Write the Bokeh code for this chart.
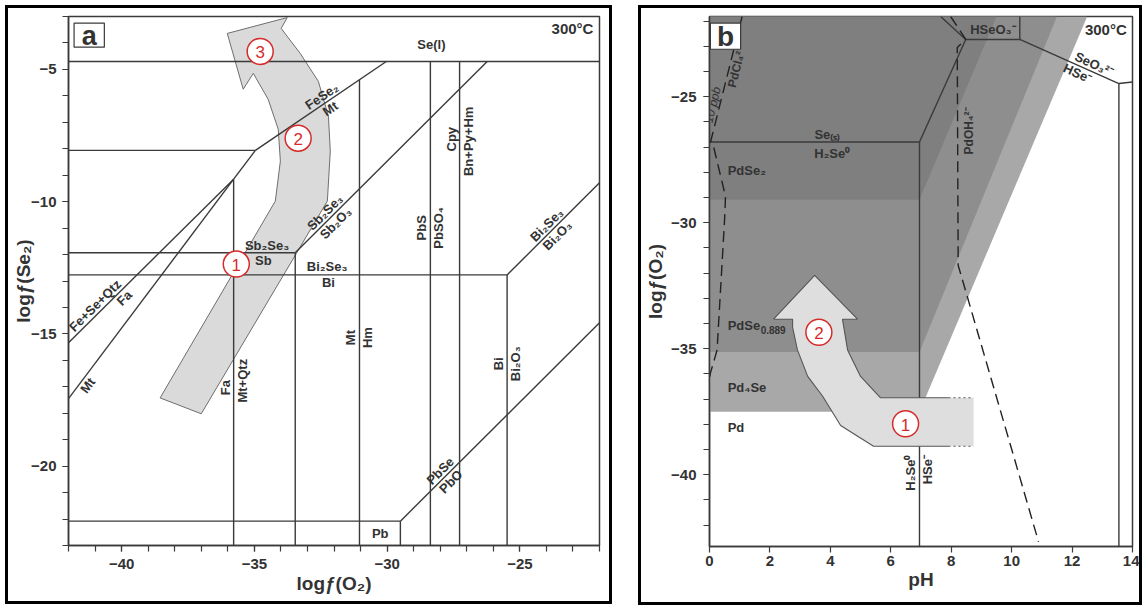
import math
from bokeh.plotting import figure
from bokeh.models import Range1d, FixedTicker, ColumnDataSource
from bokeh.layouts import row
from bokeh.core.properties import value
from bokeh.embed import file_html
from bokeh.resources import INLINE

FONT = "Liberation Sans"
INK = "#333333"
LINE = "#3a3a3a"
RED = "#d52b2b"

# ---------------- panel a: log f(O2) - log f(Se2) at 300 °C ----------------
a_seg_x0 = [-42.0, -42.0, -35.78, -34.96, -31.04, -28.37, -27.27, -33.46, -42.0, -33.46,
            -42.0, -25.48, -25.48, -35.78, -35.78, -35.78, -42.0, -29.50, -29.50]
a_seg_y0 = [-4.70, -8.06, -9.15, -8.06, -5.39, -4.70, -4.70, -11.93, -11.93, -11.93,
            -12.77, -12.77, -12.77, -9.15, -9.15, -9.15, -22.08, -22.08, -22.08]
a_seg_x1 = [-22.0, -34.96, -34.96, -30.03, -31.04, -28.37, -27.27, -26.23, -33.46, -33.46,
            -25.48, -25.48, -22.0, -42.0, -42.0, -35.78, -29.50, -29.50, -22.0]
a_seg_y1 = [-4.70, -8.06, -8.06, -4.70, -23.0, -23.0, -23.0, -4.70, -11.93, -23.0,
            -12.77, -23.0, -9.29, -15.33, -17.45, -23.0, -22.08, -23.0, -14.58]

# fluid path arrow
a_arrow_x = [-38.55, -34.21, -34.02, -34.10, -34.48, -35.04, -35.42, -36.02, -33.76, -33.99,
             -33.27, -32.59, -32.21, -32.14, -32.25, -37.00]
a_arrow_y = [-17.42, -9.98, -8.47, -7.26, -6.13, -5.15, -5.75, -3.64, -3.04, -3.45,
             -4.40, -5.45, -6.77, -8.09, -9.98, -18.02]
a_step_x = [-35.68, -33.35, -34.78]
a_step_y = [-12.36, -7.60, -4.32]
a_step_lab = ["1", "2", "3"]

a_h_text = ["Se(l)", "Sb₂Se₃", "Sb", "Bi₂Se₃", "Bi", "Pb"]
a_h_x = [-28.33, -34.52, -34.66, -32.26, -32.21, -30.26]
a_h_y = [-4.06, -11.64, -12.21, -12.47, -13.06, -22.55]

# labels on vertical boundaries (left side / right side)
a_vl_text = ["Mt", "PbS", "Cpy", "Bi", "Fa"]
a_vl_x = [-31.04, -28.37, -27.27, -25.48, -35.78]
a_vl_y = [-15.14, -10.99, -7.64, -16.13, -17.03]
a_vr_text = ["Hm", "PbSO₄", "Bn+Py+Hm", "Bi₂O₃", "Mt+Qtz"]
a_vr_x = [-31.04, -28.37, -27.27, -25.48, -35.78]
a_vr_y = [-15.14, -10.99, -7.72, -16.13, -16.77]

# labels on sloping boundaries: (above, below) pairs
a_d_up = ["FeSe₂", "Sb₂Se₃", "Bi₂Se₃", "Fe+Se+Qtz", "PbSe"]
a_d_dn = ["Mt", "Sb₂O₃", "Bi₂O₃", "Fa", "PbO"]
a_d_x_up = [-32.30, -32.14, -23.79, -40.80, -27.80]
a_d_y_up = [-6.25, -10.61, -11.08, -14.13, -20.38]
a_d_x_dn = [-32.30, -32.14, -23.79, -40.10, -27.80]
a_d_y_dn = [-6.25, -10.61, -11.08, -13.44, -20.38]
a_d_slope = [0.68, 1.0, 1.0, 0.994, 1.0]
a_mt_x, a_mt_y, a_mt_slope = [-41.5], [-16.78], 1.334

# ---------------- panel b: pH - log f(O2) ----------------
b_seg_x0 = [0.0, 6.95, 6.95, 8.48, 8.48, 10.27, 10.27, 13.55, 13.55]
b_seg_y0 = [-26.80, -42.85, -26.80, -22.73, -22.73, -22.73, -22.73, -24.48, -24.48]
b_seg_x1 = [6.95, 6.95, 8.48, 7.65, 10.27, 10.27, 13.55, 14.0, 13.55]
b_seg_y1 = [-26.80, -26.80, -22.73, -21.82, -22.73, -21.82, -24.48, -24.42, -42.85]

pdcl4_x = [1.08, 0.03, 0.14, 0.53, 0.50, 0.25, 0.03, 0.0]
pdcl4_y = [-21.82, -26.82, -27.01, -28.96, -29.87, -35.06, -35.97, -36.18]
pdoh4_x = [7.98, 8.48, 8.20, 8.23, 10.89]
pdoh4_y = [-21.82, -22.73, -23.05, -31.69, -42.66]

pd4se_x = [0.0, 6.95, 12.5, 0.0]
pd4se_y = [-37.5, -37.5, -21.82, -21.82]
pdse0889_x = [0.0, 6.95, 11.5, 0.0]
pdse0889_y = [-35.13, -35.13, -21.82, -21.82]
pdse2_x = [0.0, 6.95, 9.5, 0.0]
pdse2_y = [-29.09, -29.09, -21.82, -21.82]

b_arrow_x = [8.74, 5.66, 5.00, 4.57, 4.40, 4.90, 3.48, 2.12, 2.75, 2.75, 2.91, 3.25, 3.74, 4.34, 5.43, 8.74]
b_arrow_y = [-36.95, -36.95, -36.10, -35.05, -33.83, -33.83, -32.09, -33.83, -33.83, -34.15,
             -35.05, -36.10, -36.88, -38.05, -38.87, -38.87]
b_arrow_solid_end = 7.91
b_step_x = [6.49, 3.62]
b_step_y = [-37.98, -34.35]
b_step_lab = ["1", "2"]


def put_text(p, xs, ys, texts, angle=0.0, align="center", baseline="middle",
             size="13px", style="bold", color=INK, dx=0, dy=0):
    src = ColumnDataSource(dict(x=xs, y=ys, text=texts))
    p.text(x="x", y="y", text="text", source=src, angle=angle, x_offset=dx, y_offset=dy,
           text_align=align, text_baseline=baseline, text_font=value(FONT),
           text_font_size=size, text_font_style=style, text_color=color)


def style_axes(p, xstand, ystand, xlab_stand, ylab_stand):
    for ax in (p.xaxis[0], p.yaxis[0]):
        ax.axis_line_color = LINE
        ax.axis_line_width = 1.5
        ax.major_tick_line_color = LINE
        ax.minor_tick_line_color = LINE
        ax.major_tick_line_width = 1.2
        ax.minor_tick_line_width = 1.2
        ax.major_tick_out = 6
        ax.major_tick_in = 0
        ax.minor_tick_out = 6
        ax.minor_tick_in = 0
        ax.major_label_text_font = FONT
        ax.major_label_text_font_size = "15px"
        ax.major_label_text_font_style = "bold"
        ax.major_label_text_color = INK
        ax.axis_label_text_font = FONT
        ax.axis_label_text_font_size = "19px"
        ax.axis_label_text_font_style = "bold"
        ax.axis_label_text_color = INK
    p.xaxis[0].major_label_standoff = xstand
    p.yaxis[0].major_label_standoff = ystand
    p.xaxis[0].axis_label_standoff = xlab_stand
    p.yaxis[0].axis_label_standoff = ylab_stand
    p.grid.visible = False
    p.outline_line_color = LINE
    p.outline_line_width = 1.5
    p.background_fill_color = "white"
    p.border_fill_color = "white"
    # heavy black panel frame drawn just outside the figure box
    p.styles = {"box-shadow": "0 0 0 3px #000000"}


# ---------- build panel a ----------
pa = figure(width=601, height=593, x_range=Range1d(-42, -22), y_range=Range1d(-23, -3),
            output_backend="svg", toolbar_location=None,
            min_border_left=60, min_border_right=10, min_border_top=8, min_border_bottom=56,
            x_axis_label="logƒ(O₂)", y_axis_label="logƒ(Se₂)")
pa.margin = (8, 0, 6, 8)
pa.xaxis[0].ticker = FixedTicker(ticks=[-40, -35, -30, -25], minor_ticks=list(range(-42, -21)))
pa.yaxis[0].ticker = FixedTicker(ticks=[-20, -15, -10, -5], minor_ticks=list(range(-23, -2)))
style_axes(pa, 7, 6, 1, -6)

pa.patch(a_arrow_x, a_arrow_y, fill_color="#dadada", line_color="#6e6e6e", line_width=1)
pa.segment(a_seg_x0, a_seg_y0, a_seg_x1, a_seg_y1, line_color=LINE, line_width=1.4)

put_text(pa, a_h_x, a_h_y, a_h_text)
put_text(pa, a_vl_x, a_vl_y, a_vl_text, angle=math.pi / 2, baseline="bottom", dx=-1)
put_text(pa, a_vr_x, a_vr_y, a_vr_text, angle=math.pi / 2, baseline="top", dx=1)
for i in range(len(a_d_up)):
    ang = math.atan(a_d_slope[i])
    put_text(pa, [a_d_x_up[i]], [a_d_y_up[i]], [a_d_up[i]], angle=ang, baseline="bottom")
    put_text(pa, [a_d_x_dn[i]], [a_d_y_dn[i]], [a_d_dn[i]], angle=ang, baseline="top")
put_text(pa, a_mt_x, a_mt_y, ["Mt"], angle=math.atan(a_mt_slope), baseline="top")
put_text(pa, [-22.23], [-3.45], ["300°C"], align="right", size="15px")

pa.quad(left=[-41.79], right=[-40.65], top=[-3.25], bottom=[-4.16],
        fill_color="white", line_color=LINE, line_width=1.2)
put_text(pa, [-41.22], [-3.72], ["a"], size="27px")

pa.scatter(a_step_x, a_step_y, marker="circle", size=26, fill_color="white",
           line_color=RED, line_width=1.5)
put_text(pa, a_step_x, a_step_y, a_step_lab, size="17px", style="normal", color=RED, dy=1)

# ---------- build panel b ----------
pb = figure(width=498, height=594, x_range=Range1d(0, 14), y_range=Range1d(-42.85, -21.82),
            output_backend="svg", toolbar_location=None,
            min_border_left=68, min_border_right=7, min_border_top=5, min_border_bottom=49,
            x_axis_label="pH", y_axis_label="logƒ(O₂)")
pb.margin = (8, 3, 5, 32)
pb.xaxis[0].ticker = FixedTicker(ticks=list(range(0, 15, 2)))
pb.yaxis[0].ticker = FixedTicker(ticks=[-40, -35, -30, -25], minor_ticks=list(range(-42, -21)))
style_axes(pb, 3, 7, 0, 2)
pb.xaxis[0].minor_tick_line_color = None

pb.patch(pd4se_x, pd4se_y, fill_color="#a8a8a8", line_color=None)
pb.patch(pdse0889_x, pdse0889_y, fill_color="#8e8e8e", line_color=None)
pb.patch(pdse2_x, pdse2_y, fill_color="#7f7f7f", line_color=None)

pb.segment(b_seg_x0, b_seg_y0, b_seg_x1, b_seg_y1, line_color=LINE, line_width=1.4)
pb.line(pdcl4_x, pdcl4_y, line_color="#222222", line_width=1.4, line_dash="11 6")
pb.line(pdoh4_x, pdoh4_y, line_color="#222222", line_width=1.4, line_dash="11 6")

pb.patch(b_arrow_x, b_arrow_y, fill_color="#dedede", line_color=None)
outline_x = [b_arrow_solid_end] + b_arrow_x[1:-1] + [b_arrow_solid_end]
outline_y = [b_arrow_y[0]] + b_arrow_y[1:-1] + [b_arrow_y[-1]]
pb.line(outline_x, outline_y, line_color="#555555", line_width=1.1)
pb.segment([b_arrow_solid_end, b_arrow_solid_end], [b_arrow_y[0], b_arrow_y[-1]],
           [b_arrow_x[0], b_arrow_x[-1]], [b_arrow_y[0], b_arrow_y[-1]],
           line_color="#555555", line_width=1.1, line_dash="2 3")

put_text(pb, [0.6, 0.6, 0.6], [-27.92, -36.56, -38.13], ["PdSe₂", "Pd₄Se", "Pd"], align="left")
put_text(pb, [0.6], [-34.09], ["PdSe"], align="left")
put_text(pb, [0.6], [-34.09], ["0.889"], align="left", size="10px", dx=33, dy=4)
put_text(pb, [3.9, 4.06, 9.38], [-26.49, -27.27, -22.34], ["Se₍ₛ₎", "H₂Se⁰", "HSeO₃⁻"])
put_text(pb, [6.95], [-39.92], ["H₂Se⁰"], angle=math.pi / 2, baseline="bottom", dx=-1)
put_text(pb, [6.95], [-39.80], ["HSe⁻"], angle=math.pi / 2, baseline="top", dx=1)
put_text(pb, [8.59], [-26.36], ["PdOH₄²⁻"], angle=math.pi / 2, size="12px")
put_text(pb, [0.33], [-25.39], ["10 ppb"], angle=1.328, baseline="bottom", size="12px", style="italic")
put_text(pb, [0.67], [-23.77], ["PdCl₄²⁻"], angle=1.328, baseline="top", size="12px")
put_text(pb, [12.62], [-23.98], ["SeO₃²⁻"], angle=-0.426, baseline="bottom")
put_text(pb, [12.28], [-23.80], ["HSe⁻"], angle=-0.426, baseline="top")
put_text(pb, [13.81], [-22.34], ["300°C"], align="right", size="15px")

pb.quad(left=[0.03], right=[1.03], top=[-22.08], bottom=[-23.12],
        fill_color="white", line_color=LINE, line_width=1.2)
put_text(pb, [0.53], [-22.62], ["b"], size="28px")

pb.scatter(b_step_x, b_step_y, marker="circle", size=26, fill_color="white",
           line_color=RED, line_width=1.5)
put_text(pb, b_step_x, b_step_y, b_step_lab, size="17px", style="normal", color=RED, dy=1)

layout = row(pa, pb, spacing=0)
open("out.html", "w").write(file_html(layout, INLINE))
